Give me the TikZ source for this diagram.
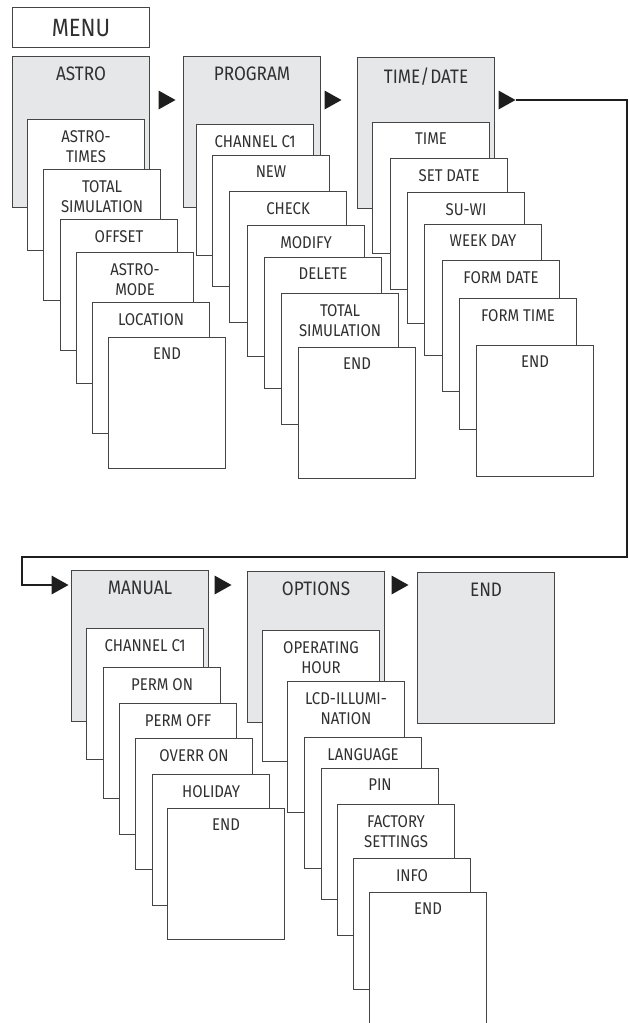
\documentclass[tikz,border=0pt]{standalone}
\usepackage{fontspec}
\IfFontExistsTF{Fira Sans Book}{\setmainfont{Fira Sans Book}[FakeStretch=0.88]}{\setmainfont{Fira Sans}[FakeStretch=0.88]}
\definecolor{grayfill}{HTML}{E6E7E8}
\definecolor{boxline}{HTML}{454545}
\definecolor{textcol}{HTML}{303030}
\definecolor{conncol}{HTML}{1E1E1E}
\tikzset{
  lbltext/.style={anchor=north,inner sep=0pt,yshift=-11pt,align=center,text=textcol,font=\fontsize{17}{20}\selectfont},
  headtext/.style={anchor=north,inner sep=0pt,yshift=-11pt,align=center,text=textcol,font=\fontsize{19.5}{22}\selectfont},
  whitebox/.style={draw=boxline,line width=1.1pt,fill=white,minimum width=117pt,minimum height=131pt,anchor=north west,inner sep=0pt,
     label={[lbltext]north:{#1}}},
  graybox/.style={draw=boxline,line width=1.1pt,fill=grayfill,minimum width=137pt,minimum height=151pt,anchor=north west,inner sep=0pt,
     label={[headtext]north:{#1}}},
  menubox/.style={draw=boxline,line width=1.1pt,fill=white,minimum width=137pt,minimum height=40pt,anchor=north west,inner sep=0pt,
     text=textcol,font=\fontsize{25}{28}\selectfont},
  conn/.style={draw=conncol,line width=2.2pt,line join=miter},
  tri/.pic={\fill[conncol] (-8.5,-9.5) -- (8.5,0) -- (-8.5,9.5) -- cycle;
            \coordinate (-tip) at (8.5,0); \coordinate (-back) at (-8.5,0);}
}
\begin{document}
\begin{tikzpicture}[x=1pt,y=-1pt]
\useasboundingbox (0,0) rectangle (629,1023);
\clip (0,0) rectangle (629,1023);
% MENU
\node[menubox] (menu) at (12,7) {MENU};
% ASTRO column
\node[graybox={ASTRO}] (astro) at (12,56) {};
\node[whitebox={ASTRO-\\TIMES}] (a1) at (27,119) {};
\node[whitebox={TOTAL\\SIMULATION}] (a2) at (43,169) {};
\node[whitebox={OFFSET}] (a3) at (60,219) {};
\node[whitebox={ASTRO-\\MODE}] (a4) at (76,252) {};
\node[whitebox={LOCATION}] (a5) at (92,302) {};
\node[whitebox={END}] (a6) at (108,337) {};
% PROGRAM column
\node[graybox={PROGRAM}] (prog) at (183,56) {};
\node[whitebox={CHANNEL C1}] (p1) at (196,124) {};
\node[whitebox={NEW}] (p2) at (212,155) {};
\node[whitebox={CHECK}] (p3) at (229,191) {};
\node[whitebox={MODIFY}] (p4) at (247,225) {};
\node[whitebox={DELETE}] (p5) at (264,257) {};
\node[whitebox={TOTAL\\SIMULATION}] (p6) at (281,293) {};
\node[whitebox={END}] (p7) at (298,347) {};
% TIME/DATE column
\node[graybox={TIME/\kern1pt DATE}] (time) at (357,57) {};
\node[whitebox={TIME}] (d1) at (372,122) {};
\node[whitebox={SET DATE}] (d2) at (390,158) {};
\node[whitebox={SU-WI}] (d3) at (407,192) {};
\node[whitebox={WEEK DAY}] (d4) at (424,224) {};
\node[whitebox={FORM DATE}] (d5) at (442,260) {};
\node[whitebox={FORM TIME}] (d6) at (459,298) {};
\node[whitebox={END}] (d7) at (476,345) {};
% MANUAL column
\node[graybox={MANUAL}] (man) at (71,570) {};
\node[whitebox={CHANNEL C1}] (m1) at (86,628) {};
\node[whitebox={PERM ON}] (m2) at (103,667) {};
\node[whitebox={PERM OFF}] (m3) at (119,703) {};
\node[whitebox={OVERR ON}] (m4) at (135,738) {};
\node[whitebox={HOLIDAY}] (m5) at (152,774) {};
\node[whitebox={END}] (m6) at (167,808) {};
% OPTIONS column
\node[graybox={OPTIONS}] (opt) at (247,571) {};
\node[whitebox={OPERATING\\HOUR}] (o1) at (262,630) {};
\node[whitebox={LCD-ILLUMI-\\NATION}] (o2) at (287,681) {};
\node[whitebox={LANGUAGE}] (o3) at (304,737) {};
\node[whitebox={PIN}] (o4) at (321,768) {};
\node[whitebox={FACTORY\\SETTINGS}] (o5) at (337,804) {};
\node[whitebox={INFO}] (o6) at (353,858) {};
\node[whitebox={END},minimum height=140pt] (o7) at (369,892) {};
% END
\node[graybox={END}] (fin) at (417,572) {};
% triangles
\pic (t1) at (167,100) {tri};
\pic (t2) at (333,100) {tri};
\pic (t3) at (507,100) {tri};
\pic (t4) at (60,585) {tri};
\pic (t5) at (223,585) {tri};
\pic (t6) at (400,585) {tri};
% connector
\coordinate (c1) at (627,557);
\coordinate (c2) at (22,557);
\draw[conn] (t3-tip) -- (t3-tip -| c1) -- (c1) -- (c2) -- (c2 |- t4-back) -- (t4-back);
\end{tikzpicture}
\end{document}
